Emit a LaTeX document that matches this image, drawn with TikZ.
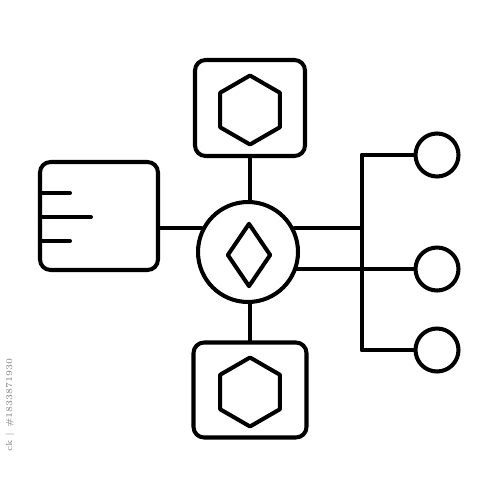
\documentclass[tikz,border=0pt]{standalone}
\usepackage{tikz}
\usetikzlibrary{shapes.geometric,calc}

\begin{document}
\begin{tikzpicture}[x=0.02cm,y=-0.02cm,line width=2.3pt,line join=round,line cap=round,
	box/.style={draw,rectangle,rounded corners=6pt,inner sep=0pt},
	hexa/.style={draw,regular polygon,regular polygon sides=6,shape border rotate=30,minimum size=1.38cm,inner sep=0pt},
	leaf/.style={draw,circle,minimum size=0.86cm,inner sep=0pt}]
			%%%	Cornice
			\useasboundingbox (0,0) rectangle (500,500);
			%%%	Nodi
			\node[box,minimum width=2.2cm,minimum height=1.92cm] (topbox) at (250,108) {};
			\node[hexa] (tophex) at (250,110) {};
			\node[box,minimum width=2.26cm,minimum height=1.9cm] (botbox) at (250,390) {};
			\node[hexa] (bothex) at (250,392) {};
			\node[box,minimum width=2.36cm,minimum height=2.16cm] (leftbox) at (99,216) {};
			\node[draw,circle,minimum size=2.0cm,inner sep=0pt] (hub) at (248,252) {};
			\node[draw,diamond,minimum width=0.88cm,minimum height=1.28cm,inner sep=0pt] (gem) at (249,255) {};
			\node[leaf] (leafa) at (437,155) {};
			\node[leaf] (leafb) at (437,269) {};
			\node[leaf] (leafc) at (437,350) {};
			\coordinate (trunktop) at (362,155);
			\coordinate (trunkbot) at (362,350);
			%%%	Linee del riquadro sinistro
			\draw ($(leftbox.west |- 0,193)+(2,0)$) -- ++(30,0);
			\draw ($(leftbox.west |- 0,217)+(2,0)$) -- ++(51,0);
			\draw ($(leftbox.west |- 0,241)+(2,0)$) -- ++(30,0);
			%%%	Collegamenti
			\draw (topbox.south) -- (topbox.south |- hub.north);
			\draw (botbox.north) -- (botbox.north |- hub.south);
			\draw (leftbox.east |- hub.153) -- (hub.153);
			\draw (hub.27) -- (hub.27 -| trunktop);
			\draw (hub.-19.5) -- (leafb.west |- hub.-19.5);
			\draw (trunktop) -- (trunkbot);
			\draw (trunktop) -- (leafa);
			\draw (trunkbot) -- (leafc);
			%%%	Scritta
			\node[rotate=90,font=\fontsize{5}{5}\selectfont,text=gray] (tag) at (10,405) {ck | \#1833871930};
		\end{tikzpicture}
\end{document}
